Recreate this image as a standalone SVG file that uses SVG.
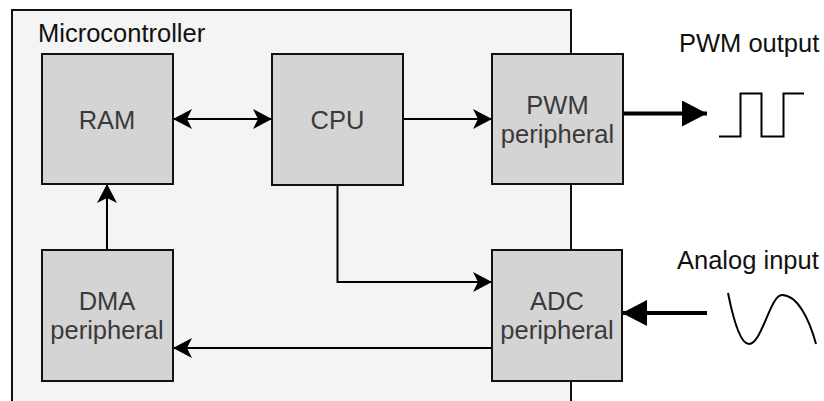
<svg xmlns="http://www.w3.org/2000/svg" width="824" height="401" viewBox="0 0 824 401">
<style>
.box{fill:#d4d4d4;stroke:#111;stroke-width:2}
.lbl{font-family:"Liberation Sans",Arial,sans-serif;font-size:25.5px;fill:#3a3a3a;text-anchor:middle}
.ext{font-family:"Liberation Sans",Arial,sans-serif;font-size:25.5px;fill:#111}
.ln{fill:none;stroke:#000;stroke-width:2}
.thick{fill:none;stroke:#000;stroke-width:4}
.wave{fill:none;stroke:#000;stroke-width:2}
</style>
<defs>
<marker id="cls" markerUnits="userSpaceOnUse" markerWidth="20" markerHeight="20" viewBox="0 0 20 20" refX="19" refY="10" orient="auto-start-reverse">
<path d="M0,0 L19,10 L0,20 L5,10 Z" fill="#000"/>
</marker>
<marker id="blk" markerUnits="userSpaceOnUse" markerWidth="26" markerHeight="26" viewBox="0 0 26 26" refX="25" refY="13" orient="auto">
<path d="M0,0 L25,13 L0,26 Z" fill="#000"/>
</marker>
</defs>
<rect width="824" height="401" fill="#fff"/>
<g id="microcontroller">
<rect x="12" y="10" width="559" height="400" fill="#f4f4f4" stroke="#111" stroke-width="2"/>
<text class="ext" x="38" y="42">Microcontroller</text>
</g>
<g id="connectors">
<path class="ln" d="M173,119 H272" marker-start="url(#cls)" marker-end="url(#cls)"/>
<path class="ln" d="M403,119 H492" marker-end="url(#cls)"/>
<path class="ln" d="M107,250 V184" marker-end="url(#cls)"/>
<path class="ln" d="M337.5,185 V282 H492" marker-end="url(#cls)"/>
<path class="ln" d="M492,348 H173" marker-end="url(#cls)"/>
<path class="thick" d="M623,113.5 H707" marker-end="url(#blk)"/>
<path class="thick" d="M707,313 H622" marker-end="url(#blk)"/>
</g>
<g id="ram">
<rect class="box" x="42" y="54" width="131" height="130"/>
<text class="lbl" x="107" y="129">RAM</text>
</g>
<g id="cpu">
<rect class="box" x="272" y="54" width="131" height="131"/>
<text class="lbl" x="337.5" y="129">CPU</text>
</g>
<g id="pwm">
<rect class="box" x="492" y="54" width="131" height="130"/>
<text class="lbl" x="557.5" y="114">PWM</text>
<text class="lbl" x="557.5" y="143">peripheral</text>
</g>
<g id="dma">
<rect class="box" x="42" y="250" width="131" height="131"/>
<text class="lbl" x="107" y="310">DMA</text>
<text class="lbl" x="107" y="339">peripheral</text>
</g>
<g id="adc">
<rect class="box" x="492" y="250" width="130" height="131"/>
<text class="lbl" x="557" y="310">ADC</text>
<text class="lbl" x="557" y="339">peripheral</text>
</g>
<g id="pwm-output">
<text class="ext" x="679" y="52">PWM output</text>
<path class="wave" d="M719,136.5 H740.5 V93.5 H761.5 V136.5 H783.5 V93.5 H804"/>
</g>
<g id="analog-input">
<text class="ext" x="677" y="269">Analog input</text>
<path class="wave" d="M728,293 C733,318 740,344 749,344 C762,344 770,295 782,295 C797,295 809,318 816,344"/>
</g>
</svg>
